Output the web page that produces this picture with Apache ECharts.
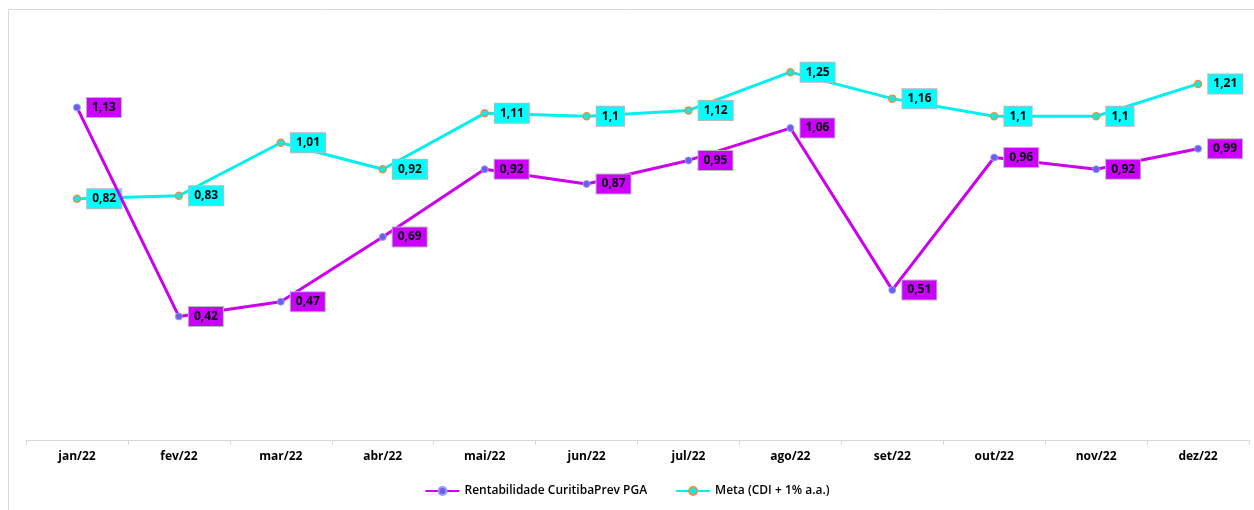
<!DOCTYPE html>
<html><head><meta charset="utf-8">
<script src="https://cdn.jsdelivr.net/npm/echarts@6/dist/echarts.min.js"></script>
<style>html,body{margin:0;padding:0;background:#fff}#c{width:1254px;height:510px}</style>
</head><body><div id="c"></div>
<script>
const categories = ['jan/22','fev/22','mar/22','abr/22','mai/22','jun/22','jul/22','ago/22','set/22','out/22','nov/22','dez/22'];
const rentabilidade = [1.13,0.42,0.47,0.69,0.92,0.87,0.95,1.06,0.51,0.96,0.92,0.99];
const meta = [0.82,0.83,1.01,0.92,1.11,1.10,1.12,1.25,1.16,1.10,1.10,1.21];
const seriesNames = ['Rentabilidade CuritibaPrev PGA','Meta (CDI + 1% a.a.)'];

const fmt = p => String(p.value).replace('.', ',');
function lbl(bg){
  return {show:true, position:'right', distance:6, formatter:fmt,
    backgroundColor:bg, borderColor:'#b8b8b8', borderWidth:1,
    padding:[4,5,3,5], color:'#000', fontWeight:'bold', fontSize:12,
    fontFamily:'Open Sans'};
}
const chart = echarts.init(document.getElementById('c'));
chart.setOption({
  animation:false,
  graphic:[{type:'rect', shape:{x:8.5,y:9.5,width:1250,height:510}, style:{fill:'none', stroke:'#d9d9d9', lineWidth:1}, silent:true}],
  grid:{left:26, right:5, top:28, bottom:70},
  xAxis:{type:'category', data:categories, boundaryGap:true,
    axisLine:{lineStyle:{color:'#d9d9d9'}}, axisTick:{show:true, length:5, lineStyle:{color:'#d9d9d9'}},
    axisLabel:{color:'#000', fontWeight:'bold', fontSize:12, fontFamily:'Open Sans', margin:11}},
  yAxis:{type:'value', min:0, max:1.4, show:false, splitLine:{show:false}},
  legend:{bottom:8, left:'center', itemGap:28, itemWidth:34, itemHeight:10,
    textStyle:{color:'#000', fontSize:12, fontFamily:'Open Sans', fontWeight:'600'}, data:seriesNames},
  series:[
    {name:seriesNames[0], type:'line', data:rentabilidade,
     lineStyle:{color:'#cc00ee', width:3}, itemStyle:{color:'#6f5de8', borderColor:'#8fa0ff', borderWidth:1},
     symbol:'circle', symbolSize:7, label:lbl('#cc00ff'), z:3},
    {name:seriesNames[1], type:'line', data:meta,
     lineStyle:{color:'#00f0f0', width:3}, itemStyle:{color:'#00f0f0', borderColor:'#e8914a', borderWidth:1.5},
     symbol:'circle', symbolSize:7, label:lbl('#00ffff'), z:2}
  ]
});
</script></body></html>
